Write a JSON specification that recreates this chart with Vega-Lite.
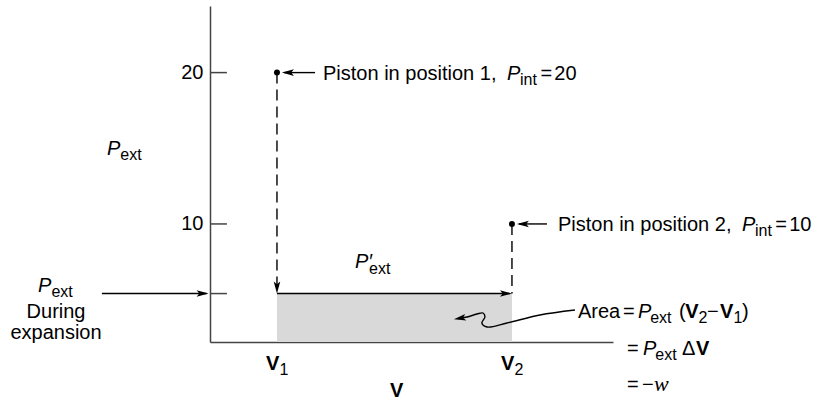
{
  "$schema": "https://vega.github.io/schema/vega-lite/v6.json",
  "width": 403,
  "height": 336,
  "autosize": {"type": "none"},
  "padding": {"left": 210, "top": 6, "right": 212, "bottom": 58},
  "background": "white",
  "config": {"view": {"stroke": null}, "font": "Liberation Sans"},
  "resolve": {"axis": {"x": "independent", "y": "independent"}},
  "datasets": {
    "work": [{"v_start": 1, "v_end": 2, "p_ext": 5.4, "p_floor": 2.2}],
    "ticks": [{"P": 20}, {"P": 10}, {"P": 5.4}],
    "segments": [
      {"V": 0.255, "V_to": 0.7, "P": 5.4, "P_to": 5.4, "stroke": "solid"},
      {"V": 1, "V_to": 1.99, "P": 5.4, "P_to": 5.4, "stroke": "solid"},
      {"V": 1.03, "V_to": 1.162, "P": 20, "P_to": 20, "stroke": "solid"},
      {"V": 2.03, "V_to": 2.149, "P": 10, "P_to": 10, "stroke": "solid"},
      {"V": 1, "V_to": 1, "P": 20, "P_to": 5.8, "stroke": "dashed"},
      {"V": 2, "V_to": 2, "P": 10, "P_to": 5.4, "stroke": "dashed"}
    ],
    "heads": [
      {"V": 1, "P": 5.4, "points": "down"},
      {"V": 2, "P": 5.4, "points": "right"},
      {"V": 0.709, "P": 5.4, "points": "right"},
      {"V": 1.021, "P": 20, "points": "left"},
      {"V": 2.021, "P": 10, "points": "left"},
      {"V": 1.753, "P": 3.7, "points": "down-left"}
    ],
    "states": [
      {"V": 1, "P": 20, "state": "position 1"},
      {"V": 2, "P": 10, "state": "position 2"}
    ],
    "callout": [
      {"step": 1, "V": 2.268, "P": 4.314},
      {"step": 2, "V": 2.119, "P": 3.984},
      {"step": 3, "V": 1.979, "P": 3.455},
      {"step": 4, "V": 1.894, "P": 3.191},
      {"step": 5, "V": 1.872, "P": 3.455},
      {"step": 6, "V": 1.885, "P": 3.852},
      {"step": 7, "V": 1.877, "P": 4.116},
      {"step": 8, "V": 1.851, "P": 4.05},
      {"step": 9, "V": 1.809, "P": 3.852},
      {"step": 10, "V": 1.78, "P": 3.78}
    ],
    "notes": [
      {"V": 1.196, "P": 19.51, "text": "Piston in position 1,", "role": "plain"},
      {"V": 1.979, "P": 19.51, "text": "P", "role": "italic"},
      {"V": 2.034, "P": 19.18, "text": "int", "role": "sub"},
      {"V": 2.121, "P": 19.51, "text": "=", "role": "plain"},
      {"V": 2.18, "P": 19.51, "text": "20", "role": "plain"},
      {"V": 2.196, "P": 9.534, "text": "Piston in position 2,", "role": "plain"},
      {"V": 2.979, "P": 9.534, "text": "P", "role": "italic"},
      {"V": 3.034, "P": 9.204, "text": "int", "role": "sub"},
      {"V": 3.121, "P": 9.534, "text": "=", "role": "plain"},
      {"V": 3.18, "P": 9.534, "text": "10", "role": "plain"},
      {"V": 0.277, "P": 14.555, "text": "P", "role": "italic"},
      {"V": 0.3335, "P": 14.225, "text": "ext", "role": "sub"},
      {"V": -0.017, "P": 5.503, "text": "P", "role": "italic"},
      {"V": 0.04, "P": 5.173, "text": "ext", "role": "sub"},
      {"V": 0.0597, "P": 3.786, "text": "During", "role": "centered"},
      {"V": 0.0597, "P": 2.398, "text": "expansion", "role": "centered"},
      {"V": 1.332, "P": 7.089, "text": "P′", "role": "italic"},
      {"V": 1.392, "P": 6.693, "text": "ext", "role": "sub"},
      {"V": 0.953, "P": 0.35, "text": "V", "role": "bold"},
      {"V": 1.011, "P": 0.02, "text": "1", "role": "sub"},
      {"V": 1.953, "P": 0.35, "text": "V", "role": "bold"},
      {"V": 2.011, "P": 0.02, "text": "2", "role": "sub"},
      {"V": 1.481, "P": -1.434, "text": "V", "role": "bold"},
      {"V": 2.281, "P": 3.786, "text": "Area", "role": "plain"},
      {"V": 2.4725, "P": 3.786, "text": "=", "role": "plain"},
      {"V": 2.536, "P": 3.786, "text": "P", "role": "italic"},
      {"V": 2.588, "P": 3.455, "text": "ext", "role": "sub"},
      {"V": 2.711, "P": 3.786, "text": "(", "role": "plain"},
      {"V": 2.737, "P": 3.786, "text": "V", "role": "bold"},
      {"V": 2.794, "P": 3.455, "text": "2", "role": "sub"},
      {"V": 2.83, "P": 3.786, "text": "−", "role": "plain"},
      {"V": 2.885, "P": 3.786, "text": "V", "role": "bold"},
      {"V": 2.943, "P": 3.455, "text": "1", "role": "sub"},
      {"V": 2.979, "P": 3.786, "text": ")", "role": "plain"},
      {"V": 2.49, "P": 1.341, "text": "=", "role": "plain"},
      {"V": 2.558, "P": 1.341, "text": "P", "role": "italic"},
      {"V": 2.61, "P": 1.01, "text": "ext", "role": "sub"},
      {"V": 2.724, "P": 1.341, "text": "Δ", "role": "plain"},
      {"V": 2.783, "P": 1.341, "text": "V", "role": "bold"},
      {"V": 2.49, "P": -1.038, "text": "=", "role": "plain"},
      {"V": 2.553, "P": -1.038, "text": "−", "role": "plain"},
      {"V": 2.604, "P": -1.038, "text": "w", "role": "serif"}
    ]
  },
  "layer": [
    {
      "data": {"name": "work"},
      "mark": {"type": "rect", "color": "#d9d9d9"},
      "encoding": {
        "x": {"field": "v_start", "type": "quantitative",
              "scale": {"domain": [0.715, 2.43], "nice": false, "zero": false},
              "axis": {"labels": false, "ticks": false, "grid": false, "title": null, "domainColor": "#444", "domainWidth": 1.5}},
        "x2": {"field": "v_end"},
        "y": {"field": "p_floor", "type": "quantitative",
              "scale": {"domain": [2.2, 24.4], "nice": false, "zero": false},
              "axis": {"values": [10, 20], "ticks": false, "grid": false, "title": null, "domainColor": "#444", "domainWidth": 1.5,
                       "labelFont": "Liberation Sans", "labelFontSize": 20, "labelColor": "black", "labelPadding": 7}},
        "y2": {"field": "p_ext"}
      }
    },
    {
      "data": {"name": "ticks"},
      "mark": {"type": "rule", "color": "#444", "strokeWidth": 1.5},
      "encoding": {
        "x": {"datum": 0.715, "type": "quantitative", "scale": {"domain": [0.715, 2.43], "nice": false, "zero": false}, "axis": null},
        "x2": {"datum": 0.787},
        "y": {"field": "P", "type": "quantitative", "scale": {"domain": [2.2, 24.4], "nice": false, "zero": false}, "axis": null}
      }
    },
    {
      "data": {"name": "segments"},
      "transform": [{"filter": "datum.stroke === 'solid'"}],
      "mark": {"type": "rule", "color": "black", "strokeWidth": 1.4},
      "encoding": {
        "x": {"field": "V", "type": "quantitative", "scale": {"domain": [0.715, 2.43], "nice": false, "zero": false}, "axis": null},
        "x2": {"field": "V_to"},
        "y": {"field": "P", "type": "quantitative", "scale": {"domain": [2.2, 24.4], "nice": false, "zero": false}, "axis": null},
        "y2": {"field": "P_to"}
      }
    },
    {
      "data": {"name": "segments"},
      "transform": [{"filter": "datum.stroke === 'dashed'"}],
      "mark": {"type": "rule", "color": "black", "strokeWidth": 1.4, "strokeDash": [11, 6]},
      "encoding": {
        "x": {"field": "V", "type": "quantitative", "scale": {"domain": [0.715, 2.43], "nice": false, "zero": false}, "axis": null},
        "x2": {"field": "V_to"},
        "y": {"field": "P", "type": "quantitative", "scale": {"domain": [2.2, 24.4], "nice": false, "zero": false}, "axis": null},
        "y2": {"field": "P_to"}
      }
    },
    {
      "data": {"name": "callout"},
      "mark": {"type": "line", "color": "black", "strokeWidth": 1.4, "interpolate": "catmull-rom"},
      "encoding": {
        "x": {"field": "V", "type": "quantitative", "scale": {"domain": [0.715, 2.43], "nice": false, "zero": false}, "axis": null},
        "y": {"field": "P", "type": "quantitative", "scale": {"domain": [2.2, 24.4], "nice": false, "zero": false}, "axis": null},
        "order": {"field": "step", "type": "quantitative"}
      }
    },
    {
      "data": {"name": "states"},
      "mark": {"type": "point", "filled": true, "color": "black", "size": 36, "opacity": 1, "shape": "circle"},
      "encoding": {
        "x": {"field": "V", "type": "quantitative", "scale": {"domain": [0.715, 2.43], "nice": false, "zero": false}, "axis": null},
        "y": {"field": "P", "type": "quantitative", "scale": {"domain": [2.2, 24.4], "nice": false, "zero": false}, "axis": null}
      }
    },
    {
      "data": {"name": "heads"},
      "mark": {"type": "point", "filled": true, "color": "black", "size": 144, "opacity": 1, "strokeWidth": 0},
      "encoding": {
        "x": {"field": "V", "type": "quantitative", "scale": {"domain": [0.715, 2.43], "nice": false, "zero": false}, "axis": null},
        "y": {"field": "P", "type": "quantitative", "scale": {"domain": [2.2, 24.4], "nice": false, "zero": false}, "axis": null},
        "shape": {"field": "points", "type": "nominal", "legend": null,
                  "scale": {"domain": ["right", "left", "down", "down-left"],
                            "range": ["M0,0L-2,-0.55L-1.55,0L-2,0.55Z", "M0,0L2,-0.55L1.55,0L2,0.55Z", "M0,0L-0.55,-2L0,-1.55L0.55,-2Z", "M0,0L2.07,0.19L1.53,-0.27L1.87,-0.89Z"]}}
      }
    },
    {
      "data": {"name": "notes"},
      "transform": [{"filter": "datum.role === 'plain'"}],
      "mark": {"type": "text", "font": "Liberation Sans", "fontSize": 20, "align": "left", "baseline": "alphabetic", "color": "black"},
      "encoding": {
        "x": {"field": "V", "type": "quantitative", "scale": {"domain": [0.715, 2.43], "nice": false, "zero": false}, "axis": null},
        "y": {"field": "P", "type": "quantitative", "scale": {"domain": [2.2, 24.4], "nice": false, "zero": false}, "axis": null},
        "text": {"field": "text"}
      }
    },
    {
      "data": {"name": "notes"},
      "transform": [{"filter": "datum.role === 'centered'"}],
      "mark": {"type": "text", "font": "Liberation Sans", "fontSize": 20, "align": "center", "baseline": "alphabetic", "color": "black"},
      "encoding": {
        "x": {"field": "V", "type": "quantitative", "scale": {"domain": [0.715, 2.43], "nice": false, "zero": false}, "axis": null},
        "y": {"field": "P", "type": "quantitative", "scale": {"domain": [2.2, 24.4], "nice": false, "zero": false}, "axis": null},
        "text": {"field": "text"}
      }
    },
    {
      "data": {"name": "notes"},
      "transform": [{"filter": "datum.role === 'italic'"}],
      "mark": {"type": "text", "font": "Liberation Sans", "fontSize": 20, "fontStyle": "italic", "align": "left", "baseline": "alphabetic", "color": "black"},
      "encoding": {
        "x": {"field": "V", "type": "quantitative", "scale": {"domain": [0.715, 2.43], "nice": false, "zero": false}, "axis": null},
        "y": {"field": "P", "type": "quantitative", "scale": {"domain": [2.2, 24.4], "nice": false, "zero": false}, "axis": null},
        "text": {"field": "text"}
      }
    },
    {
      "data": {"name": "notes"},
      "transform": [{"filter": "datum.role === 'sub'"}],
      "mark": {"type": "text", "font": "Liberation Sans", "fontSize": 16, "align": "left", "baseline": "alphabetic", "color": "black"},
      "encoding": {
        "x": {"field": "V", "type": "quantitative", "scale": {"domain": [0.715, 2.43], "nice": false, "zero": false}, "axis": null},
        "y": {"field": "P", "type": "quantitative", "scale": {"domain": [2.2, 24.4], "nice": false, "zero": false}, "axis": null},
        "text": {"field": "text"}
      }
    },
    {
      "data": {"name": "notes"},
      "transform": [{"filter": "datum.role === 'bold'"}],
      "mark": {"type": "text", "font": "Liberation Sans", "fontSize": 20, "fontWeight": "bold", "align": "left", "baseline": "alphabetic", "color": "black"},
      "encoding": {
        "x": {"field": "V", "type": "quantitative", "scale": {"domain": [0.715, 2.43], "nice": false, "zero": false}, "axis": null},
        "y": {"field": "P", "type": "quantitative", "scale": {"domain": [2.2, 24.4], "nice": false, "zero": false}, "axis": null},
        "text": {"field": "text"}
      }
    },
    {
      "data": {"name": "notes"},
      "transform": [{"filter": "datum.role === 'serif'"}],
      "mark": {"type": "text", "font": "Liberation Serif", "fontSize": 22, "fontStyle": "italic", "align": "left", "baseline": "alphabetic", "color": "black"},
      "encoding": {
        "x": {"field": "V", "type": "quantitative", "scale": {"domain": [0.715, 2.43], "nice": false, "zero": false}, "axis": null},
        "y": {"field": "P", "type": "quantitative", "scale": {"domain": [2.2, 24.4], "nice": false, "zero": false}, "axis": null},
        "text": {"field": "text"}
      }
    }
  ]
}
